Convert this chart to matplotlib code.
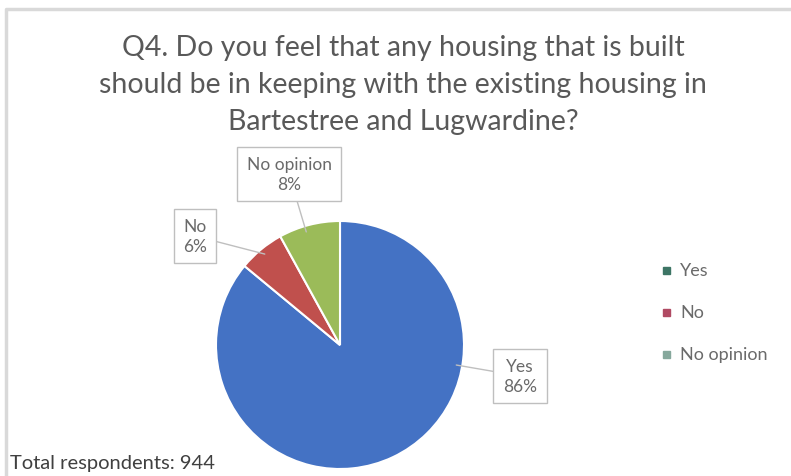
import matplotlib.pyplot as plt
import matplotlib.patches as mpatches
import numpy as np

categories = ['Yes', 'No', 'No opinion']
percent = [86, 6, 8]
colors = ['#4472C4', '#C0504D', '#9BBB59']
legend_colors = ['#3d7565', '#b04a63', '#86a89c']
title = ("Q4. Do you feel that any housing that is built\n"
         "should be in keeping with the existing housing in\n"
         "Bartestree and Lugwardine?")
note = "Total respondents: 944"

W, H = 791, 477
fig = plt.figure(figsize=(W / 100, H / 100), dpi=100)
ax = fig.add_axes([0, 0, 1, 1])
ax.set_xlim(0, W)
ax.set_ylim(0, H)
ax.set_aspect('equal')
ax.axis('off')

plt.rcParams['font.family'] = ['Lato', 'DejaVu Sans']

# chart frame (light grey edge at left and top)
ax.plot([6, 6, W], [0, H - 10, H - 10], color='#d9d9d9', lw=2.5)

cx, cy, r = 340, H - 346, 124
wedges, _ = ax.pie(percent, colors=colors, startangle=90, counterclock=False,
                   center=(cx, cy), radius=r,
                   wedgeprops=dict(edgecolor='white', linewidth=1.5))
ax.set_xlim(0, W)
ax.set_ylim(0, H)

# data labels in callout boxes, leader line points toward the box
label_pos = {'Yes': (520, H - 377), 'No': (195, H - 237), 'No opinion': (289, H - 175)}
for w, cat, p in zip(wedges, categories, percent):
    lx, ly = label_pos[cat]
    ang = np.arctan2(ly - cy, lx - cx)
    t1, t2 = sorted((w.theta1, w.theta2))
    deg = np.rad2deg(ang) % 360
    if not (t1 % 360 <= deg <= t2 % 360 or t2 - t1 > 180):
        ang = np.deg2rad((w.theta1 + w.theta2) / 2)
    ex, ey = cx + (r - 6) * np.cos(ang), cy + (r - 6) * np.sin(ang)
    ax.annotate(f"{cat}\n{p}%", xy=(ex, ey), xytext=(lx, ly),
                ha='center', va='center', fontsize=12.5, color='#6a6a6a',
                linespacing=1.3,
                bbox=dict(boxstyle='square,pad=0.55', fc='white', ec='#bfbfbf', lw=1),
                arrowprops=dict(arrowstyle='-', color='#bfbfbf', lw=1,
                                shrinkA=0, shrinkB=0))

ax.text(403, H - 85, title, ha='center', va='center', fontsize=20.5,
        color='#595959', linespacing=1.52)
ax.text(10, H - 464, note, ha='left', va='center', fontsize=14.5, color='#404040')

# legend
for i, (cat, c) in enumerate(zip(categories, legend_colors)):
    y = H - (271 + i * 42)
    ax.add_patch(mpatches.Rectangle((663, y - 3.5), 7, 7, color=c))
    ax.text(680, y, cat, ha='left', va='center', fontsize=13, color='#6a6a6a')

fig.savefig('out.png', dpi=100)
